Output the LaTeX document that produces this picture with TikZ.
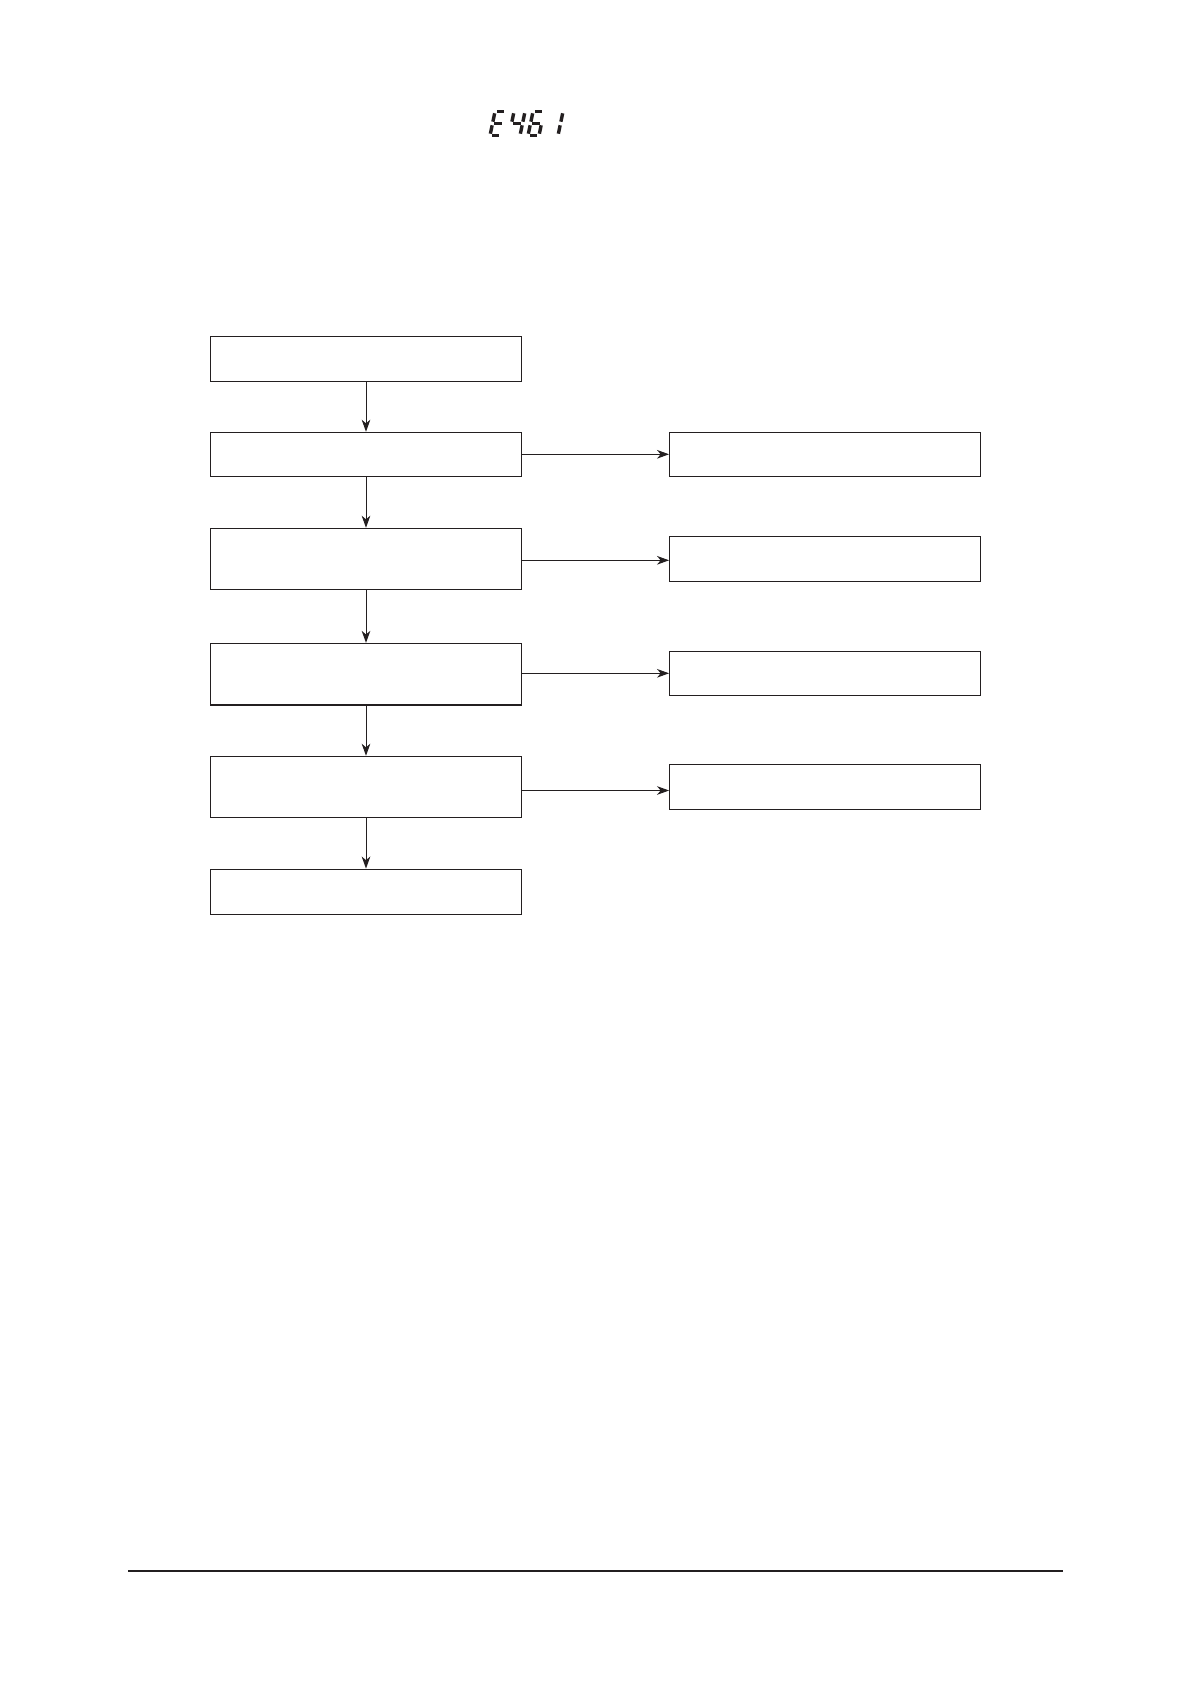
\documentclass[tikz,border=0pt]{standalone}
\usetikzlibrary{arrows.meta}
\definecolor{ink}{HTML}{231F20}
\newcommand{\segA}{\draw[sseg] (1.8,24)--(9.2,24);}
\newcommand{\segB}{\draw[sseg] (11,22.2)--(11,13.8);}
\newcommand{\segC}{\draw[sseg] (11,10.2)--(11,1.8);}
\newcommand{\segD}{\draw[sseg] (1.8,0)--(9.2,0);}
\newcommand{\segE}{\draw[sseg] (0,1.8)--(0,10.2);}
\newcommand{\segF}{\draw[sseg] (0,13.8)--(0,22.2);}
\newcommand{\segG}{\draw[sseg] (1.8,12)--(9.2,12);}
\begin{document}
\begin{tikzpicture}[x=0.5pt,y=-0.5pt,
  box/.style={draw=ink, line width=0.55pt, rectangle, inner sep=0pt, minimum width=155.6pt},
  arr/.style={draw=ink, line width=0.5pt, -{Stealth[length=6pt,width=4.3pt,inset=1.8pt]}},
  sseg/.style={draw=ink, line width=1.7pt, line cap=butt},
  digit/.style={x=0.5pt, y=0.5pt, xslant=0.21}]
\fill[white] (0,0) rectangle (1191,1684);
\useasboundingbox (0,0) rectangle (1191,1684);

% seven-segment code E461
\begin{scope}[shift={(490,135.5)}, digit]
  \segA \segD \segE \segF \segG
\end{scope}
\begin{scope}[shift={(509,135.5)}, digit]
  \segB \segC \segF \segG
\end{scope}
\begin{scope}[shift={(528,135.5)}, digit]
  \segA \segC \segD \segE \segF \segG
\end{scope}
\begin{scope}[shift={(547,135.5)}, digit]
  \segB \segC
\end{scope}

% left column
\node[box, minimum height=22.5pt] (b1) at (366,358.8) {};
\node[box, minimum height=22pt]   (b2) at (366,454.3) {};
\node[box, minimum height=30.5pt] (b3) at (366,558.8) {};
\node[box, minimum height=30.8pt] (b4) at (366,674.2) {};
\node[box, minimum height=30.5pt] (b5) at (366,786.8) {};
\node[box, minimum height=22.6pt] (b6) at (366,891.7) {};

% right column
\node[box, minimum height=22pt]   (r1) at (825.2,454.3) {};
\node[box, minimum height=22.5pt] (r2) at (825.2,558.8) {};
\node[box, minimum height=22pt]   (r3) at (825.2,673.3) {};
\node[box, minimum height=22.5pt] (r4) at (825.2,786.8) {};

% vertical connectors
\draw[arr] (b1.south) -- (b2.north);
\draw[arr] (b2.south) -- (b3.north);
\draw[arr] (b3.south) -- (b4.north);
\draw[arr] (b4.south) -- (b5.north);
\draw[arr] (b5.south) -- (b6.north);

% horizontal connectors
\draw[arr] (b2.east) -- (r1.west);
\draw[arr] ([yshift=-0.75pt]b3.east) -- ([yshift=-0.75pt]r2.west);
\draw[arr] (b4.east |- r3.west) -- (r3.west);
\draw[arr] ([yshift=-1.85pt]b5.east) -- ([yshift=-1.85pt]r4.west);

% footer rule
\draw[ink, line width=0.85pt] (128,1570.7) -- (1062.7,1570.7);
\end{tikzpicture}
\end{document}
